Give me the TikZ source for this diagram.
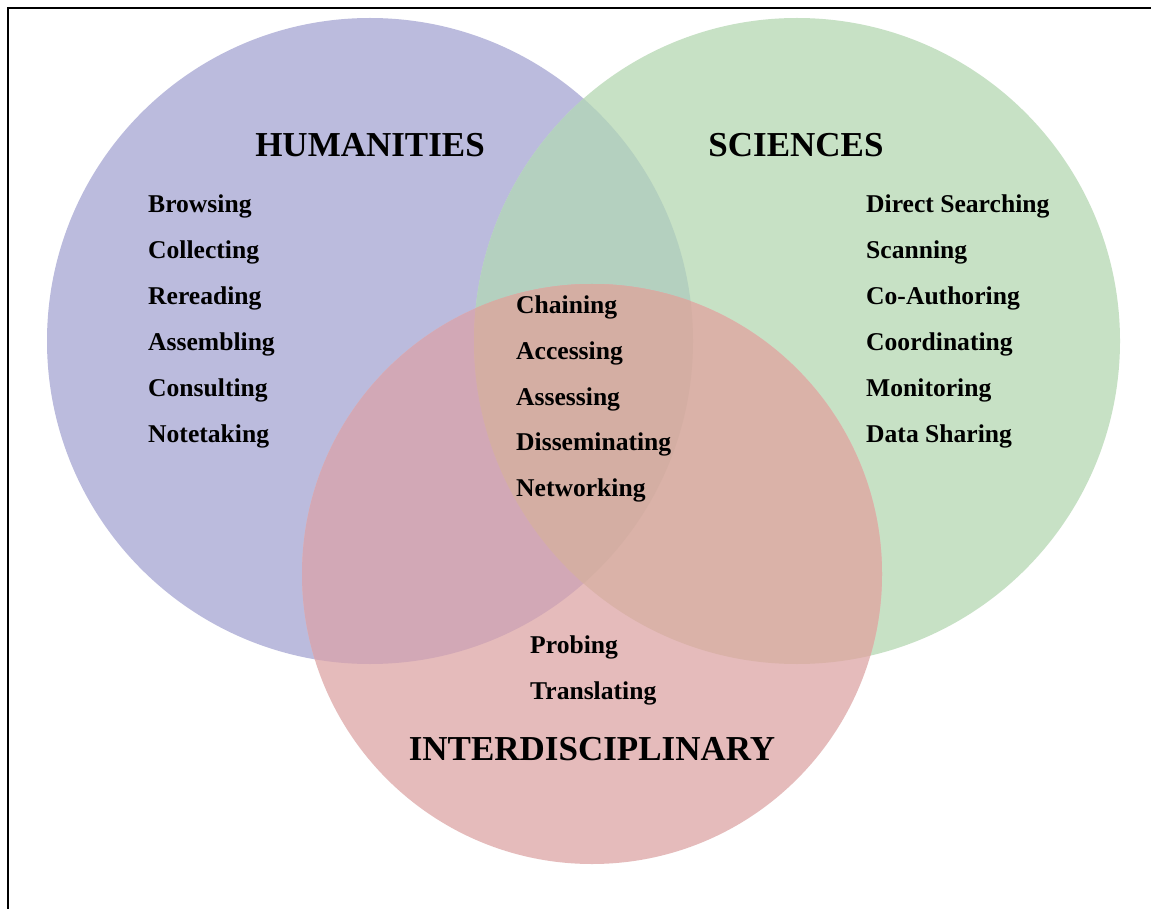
\documentclass[tikz,border=0pt]{standalone}
\usepackage{fontspec}
\setmainfont{Liberation Serif}
\definecolor{cB}{HTML}{BBBBDD}
\definecolor{cG}{HTML}{C7E1C5}
\definecolor{cR}{HTML}{E5BBBB}
\definecolor{cBG}{HTML}{B4D0BF}
\definecolor{cBR}{HTML}{D2A8B6}
\definecolor{cGR}{HTML}{DAB2A8}
\definecolor{cBGR}{HTML}{D4AEA3}
\tikzset{
  title/.style={font=\fontsize{35}{40}\selectfont\bfseries, anchor=base, inner sep=0pt, text=black},
  item/.style={font=\fontsize{25.6}{30}\selectfont\bfseries, anchor=base west, inner sep=0pt, text=black},
}
\begin{document}
\begin{tikzpicture}[x=1pt,y=-1pt]
\useasboundingbox (0,0) rectangle (1151,909);
\fill[white] (0,0) rectangle (1151,909);
\def\blue{(370,341) circle[radius=323]}
\def\green{(797,341) circle[radius=323]}
\def\red{(592,574) circle[radius=290]}
\fill[cB] \blue;
\fill[cG] \green;
\begin{scope}\clip \blue; \fill[cBG] \green; \end{scope}
\fill[cR] \red;
\begin{scope}\clip \blue; \fill[cBR] \red; \end{scope}
\begin{scope}\clip \green; \fill[cGR] \red; \end{scope}
\begin{scope}\clip \blue; \clip \green; \fill[cBGR] \red; \end{scope}
\draw[line width=2.5pt] (8,909) -- (8,8) -- (1151,8);

\node[title] (hum) at (370,157) {HUMANITIES};
\node[title] (sci) at (796,157) {SCIENCES};
\node[title] (inter) at (592,760) {INTERDISCIPLINARY};

\node[item] (h1) at (148,213) {Browsing};
\node[item] (h2) at (148,259) {Collecting};
\node[item] (h3) at (148,305) {Rereading};
\node[item] (h4) at (148,350) {Assembling};
\node[item] (h5) at (148,396) {Consulting};
\node[item] (h6) at (148,442) {Notetaking};

\node[item] (s1) at (866,213) {Direct Searching};
\node[item] (s2) at (866,259) {Scanning};
\node[item] (s3) at (866,305) {Co-Authoring};
\node[item] (s4) at (866,350) {Coordinating};
\node[item] (s5) at (866,396) {Monitoring};
\node[item] (s6) at (866,442) {Data Sharing};

\node[item] (c1) at (516,313) {Chaining};
\node[item] (c2) at (516,359) {Accessing};
\node[item] (c3) at (516,405) {Assessing};
\node[item] (c4) at (516,450) {Disseminating};
\node[item] (c5) at (516,496) {Networking};

\node[item] (i1) at (530,653) {Probing};
\node[item] (i2) at (530,699) {Translating};
\end{tikzpicture}
\end{document}
